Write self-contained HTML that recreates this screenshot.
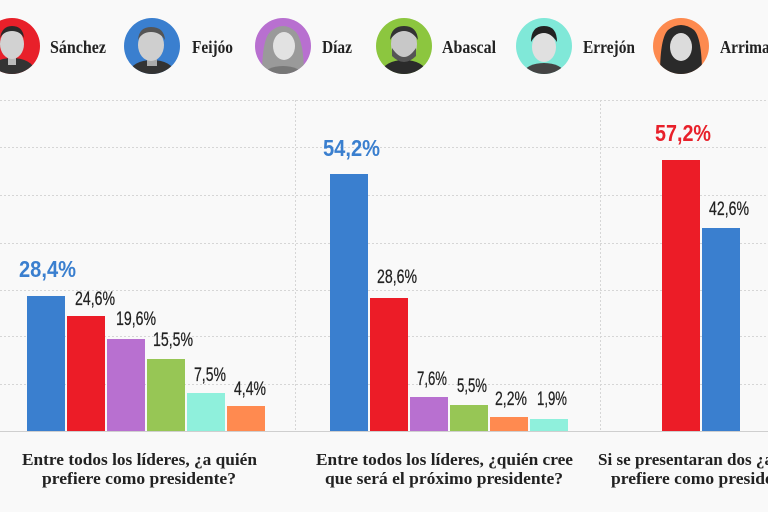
<!DOCTYPE html>
<html><head><meta charset="utf-8"><style>
html,body{margin:0;padding:0;background:#f9f9f9;}
svg{display:block;}
</style></head><body>
<svg width="768" height="512" viewBox="0 0 768 512" xmlns="http://www.w3.org/2000/svg">
<rect width="768" height="512" fill="#f9f9f9"/>
<defs>
<clipPath id="c1"><circle cx="12" cy="46" r="28"/></clipPath>
<clipPath id="c2"><circle cx="152" cy="46" r="28"/></clipPath>
<clipPath id="c3"><circle cx="283" cy="46" r="28"/></clipPath>
<clipPath id="c4"><circle cx="404" cy="46" r="28"/></clipPath>
<clipPath id="c5"><circle cx="544" cy="46" r="28"/></clipPath>
<clipPath id="c6"><circle cx="681" cy="46" r="28"/></clipPath>
</defs>
<!-- legend -->
<g>
<circle cx="12" cy="46" r="28" fill="#e8202a"/>
<g clip-path="url(#c1)"><ellipse cx="12" cy="70" rx="22" ry="12" fill="#333"/><rect x="8" y="55" width="8" height="10" fill="#bbb"/><ellipse cx="12" cy="44" rx="12" ry="15" fill="#d2d2d2"/><path d="M0 38 Q2 26 12 26 Q23 26 24 38 Q20 31 12 31 Q4 31 0 38Z" fill="#2a2a2a"/></g>
<circle cx="152" cy="46" r="28" fill="#3a7fcf"/>
<g clip-path="url(#c2)"><ellipse cx="152" cy="72" rx="22" ry="12" fill="#333"/><rect x="147" y="56" width="10" height="10" fill="#aaa"/><ellipse cx="151" cy="45" rx="13" ry="16" fill="#cfcfcf"/><path d="M138 40 Q139 27 151 27 Q164 27 165 40 Q160 32 151 32 Q142 32 138 40Z" fill="#555"/></g>
<circle cx="283" cy="46" r="28" fill="#b870d0"/>
<g clip-path="url(#c3)"><path d="M262 75 Q262 40 270 32 Q283 20 296 32 Q304 42 304 75Z" fill="#9a9a9a"/><ellipse cx="284" cy="46" rx="11" ry="14" fill="#e2e2e2"/><ellipse cx="283" cy="76" rx="20" ry="10" fill="#777"/></g>
<circle cx="404" cy="46" r="28" fill="#8cc63f"/>
<g clip-path="url(#c4)"><ellipse cx="404" cy="72" rx="22" ry="12" fill="#2b2b2b"/><ellipse cx="404" cy="44" rx="13" ry="17" fill="#c8c8c8"/><path d="M392 48 Q404 66 416 48 L416 56 Q404 68 392 56Z" fill="#555"/><path d="M390 40 Q391 26 404 26 Q417 26 418 40 Q412 31 404 31 Q396 31 390 40Z" fill="#333"/></g>
<circle cx="544" cy="46" r="28" fill="#80e8d8"/>
<g clip-path="url(#c5)"><ellipse cx="544" cy="73" rx="20" ry="10" fill="#444"/><ellipse cx="544" cy="47" rx="12" ry="15" fill="#e0e0e0"/><path d="M531 42 Q531 26 544 26 Q557 26 557 42 Q551 33 544 33 Q536 33 531 42Z" fill="#222"/></g>
<circle cx="681" cy="46" r="28" fill="#fd8a4f"/>
<g clip-path="url(#c6)"><path d="M660 75 Q660 38 668 30 Q681 20 694 30 Q702 38 702 75Z" fill="#2a2a2a"/><ellipse cx="681" cy="47" rx="11" ry="14" fill="#dcdcdc"/></g>
</g>
<g font-family="Liberation Serif, serif" font-weight="bold" font-size="17.5" fill="#222">
<text x="50" y="53" textLength="56" lengthAdjust="spacingAndGlyphs">Sánchez</text>
<text x="192" y="53" textLength="41" lengthAdjust="spacingAndGlyphs">Feijóo</text>
<text x="322" y="53" textLength="30" lengthAdjust="spacingAndGlyphs">Díaz</text>
<text x="442" y="53" textLength="54" lengthAdjust="spacingAndGlyphs">Abascal</text>
<text x="583" y="53" textLength="52" lengthAdjust="spacingAndGlyphs">Errejón</text>
<text x="720" y="53" textLength="72" lengthAdjust="spacingAndGlyphs">Arrimadas</text>
</g>
<!-- grid -->
<g stroke="#d6d6d6" stroke-width="1" stroke-dasharray="2,2">
<line x1="0" y1="100.5" x2="768" y2="100.5"/>
<line x1="0" y1="147.5" x2="768" y2="147.5"/>
<line x1="0" y1="195.5" x2="768" y2="195.5"/>
<line x1="0" y1="243.5" x2="768" y2="243.5"/>
<line x1="0" y1="290.5" x2="768" y2="290.5"/>
<line x1="0" y1="336.5" x2="768" y2="336.5"/>
<line x1="0" y1="384.5" x2="768" y2="384.5"/>
<line x1="295.5" y1="100" x2="295.5" y2="431"/>
<line x1="600.5" y1="100" x2="600.5" y2="431"/>
</g>
<line x1="0" y1="431.5" x2="768" y2="431.5" stroke="#cfcfcf" stroke-width="1"/>
<!-- panel 1 bars -->
<rect x="27" y="296" width="38" height="135" fill="#3a7fcf"/>
<rect x="67" y="316" width="38" height="115" fill="#ec1c27"/>
<rect x="107" y="339" width="38" height="92" fill="#b870d0"/>
<rect x="147" y="359" width="38" height="72" fill="#97c655"/>
<rect x="187" y="393" width="38" height="38" fill="#8ff0dc"/>
<rect x="227" y="406" width="38" height="25" fill="#ff8a50"/>
<!-- panel 2 bars -->
<rect x="330" y="174" width="38" height="257" fill="#3a7fcf"/>
<rect x="370" y="298" width="38" height="133" fill="#ec1c27"/>
<rect x="410" y="397" width="38" height="34" fill="#b870d0"/>
<rect x="450" y="405" width="38" height="26" fill="#97c655"/>
<rect x="490" y="417" width="38" height="14" fill="#ff8a50"/>
<rect x="530" y="419" width="38" height="12" fill="#8ff0dc"/>
<!-- panel 3 bars -->
<rect x="662" y="160" width="38" height="271" fill="#ec1c27"/>
<rect x="702" y="228" width="38" height="203" fill="#3a7fcf"/>
<!-- labels -->
<g font-family="Liberation Sans, sans-serif" font-weight="bold" font-size="23">
<text x="19" y="277" fill="#3a7fcf" textLength="57" lengthAdjust="spacingAndGlyphs">28,4%</text>
<text x="323" y="156" fill="#3a7fcf" textLength="57" lengthAdjust="spacingAndGlyphs">54,2%</text>
<text x="655" y="141" fill="#e8202a" textLength="56" lengthAdjust="spacingAndGlyphs">57,2%</text>
</g>
<g font-family="Liberation Sans, sans-serif" font-size="19" fill="#222" stroke="#222" stroke-width="0.25">
<text x="75" y="305" textLength="40" lengthAdjust="spacingAndGlyphs">24,6%</text>
<text x="116" y="325" textLength="40" lengthAdjust="spacingAndGlyphs">19,6%</text>
<text x="153" y="346" textLength="40" lengthAdjust="spacingAndGlyphs">15,5%</text>
<text x="194" y="381" textLength="32" lengthAdjust="spacingAndGlyphs">7,5%</text>
<text x="234" y="395" textLength="32" lengthAdjust="spacingAndGlyphs">4,4%</text>
<text x="377" y="283" textLength="40" lengthAdjust="spacingAndGlyphs">28,6%</text>
<text x="417" y="385" textLength="30" lengthAdjust="spacingAndGlyphs">7,6%</text>
<text x="457" y="392" textLength="30" lengthAdjust="spacingAndGlyphs">5,5%</text>
<text x="495" y="405" textLength="32" lengthAdjust="spacingAndGlyphs">2,2%</text>
<text x="537" y="405" textLength="30" lengthAdjust="spacingAndGlyphs">1,9%</text>
<text x="709" y="215" textLength="40" lengthAdjust="spacingAndGlyphs">42,6%</text>
</g>
<!-- titles -->
<g font-family="Liberation Serif, serif" font-weight="bold" font-size="17" fill="#222">
<text x="22" y="465" textLength="235" lengthAdjust="spacingAndGlyphs">Entre todos los líderes, ¿a quién</text>
<text x="42" y="484" textLength="194" lengthAdjust="spacingAndGlyphs">prefiere como presidente?</text>
<text x="316" y="465" textLength="257" lengthAdjust="spacingAndGlyphs">Entre todos los líderes, ¿quién cree</text>
<text x="325" y="484" textLength="238" lengthAdjust="spacingAndGlyphs">que será el próximo presidente?</text>
<text x="598" y="465" textLength="220" lengthAdjust="spacingAndGlyphs">Si se presentaran dos ¿a quién</text>
<text x="611" y="484" textLength="194" lengthAdjust="spacingAndGlyphs">prefiere como presidente?</text>
</g>
</svg>
</body></html>
